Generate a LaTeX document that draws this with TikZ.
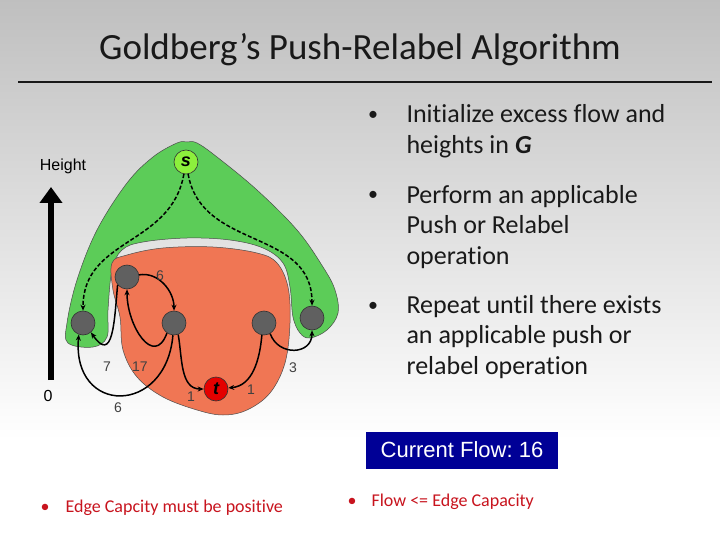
\documentclass[tikz,border=0pt]{standalone}
\usepackage{fontspec}
\setmainfont[Ligatures=NoCommon]{Carlito}
\newfontfamily\arialfont{Liberation Sans}
\usetikzlibrary{arrows.meta,positioning}
\definecolor{regiongreen}{RGB}{92,204,88}
\definecolor{regionred}{RGB}{240,118,84}
\definecolor{vertexgray}{RGB}{96,96,96}
\definecolor{sourcegreen}{RGB}{140,240,60}
\definecolor{sinkred}{RGB}{228,0,0}
\definecolor{flowblue}{RGB}{0,0,150}
\definecolor{noteRed}{RGB}{200,20,30}
\definecolor{textdark}{RGB}{25,25,25}
\tikzset{
    vertex/.style={circle, draw=black!80, fill=vertexgray, minimum size=24pt, inner sep=0pt, line width=0.6pt},
    flow/.style={-{Stealth[length=6pt,width=5pt]}, line width=1.5pt},
    push/.style={flow, dash pattern=on 4pt off 2pt},
    caplabel/.style={font=\arialfont\fontsize{14}{16}\selectfont, text=black!75},
    bullettext/.style={anchor=base west, align=left, text=textdark, font=\fontsize{26}{30.5}\selectfont},
    bulletdot/.style={anchor=base, text=textdark, font=\fontsize{20}{24}\selectfont},
    note/.style={anchor=base west, text=noteRed, font=\fontsize{18}{20}\selectfont}
}
\begin{document}
\begin{tikzpicture}[x=1pt,y=-1pt]

    \useasboundingbox (0,0) rectangle (720,540);
    \fill[white] (0,0) rectangle (720,540);
    \shade[top color=gray!50, bottom color=white] (0,0) rectangle (720,440);

    \node[font=\fontsize{37}{40}\selectfont, text=textdark, anchor=base] (title) at (360,60) {Goldberg's Push-Relabel Algorithm};
    \draw[line width=1.5pt, textdark] (18,82) -- (712,82);

    % regions
    \draw[fill=regiongreen, draw=black!70, line width=0.5pt] plot[smooth cycle, tension=0.6] coordinates {
        (187,142) (177,143) (153,157) (127,183) (97,230) (77,280) (67,323) (68,343) (93,347)
        (107,337) (108,310) (112,270) (122,250) (143,242) (187,238) (230,240) (263,248)
        (283,263) (290,287) (293,317) (300,333) (310,338) (327,330) (338,313) (335,290)
        (323,267) (297,230) (257,190) (217,157) (197,143)};
    \draw[fill=regionred, draw=black!70, line width=0.5pt] plot[smooth cycle, tension=0.6] coordinates {
        (112,263) (113,290) (120,317) (123,350) (137,377) (163,397) (197,410) (223,415)
        (247,410) (270,393) (285,363) (290,323) (288,287) (277,263) (257,253) (213,247)
        (163,248) (127,255)};

    \node[vertex, fill=sourcegreen] (s) at (186,162) {\arialfont\bfseries\itshape\fontsize{18}{18}\selectfont s};
    \node[vertex] (A) at (83,323) {};
    \node[vertex] (B) at (127,277) {};
    \node[vertex] (C) at (174,323) {};
    \node[vertex] (D) at (264,323) {};
    \node[vertex] (E) at (312,318) {};
    \node[vertex, fill=sinkred] (t) at (216,389) {\arialfont\bfseries\itshape\fontsize{18}{18}\selectfont t};

    \draw[push] (s) to[out=-100, in=90, looseness=1.1] (A);
    \draw[push] (s) to[out=-80, in=90, looseness=1.1] (E);
    \draw[flow] (B.10) to[out=10, in=90] (C);
    \draw[flow] (C.235) to[out=-110, in=-90, looseness=1.6] (B);
    \draw[flow] (B.220) to[out=-95, in=-55, looseness=1.8] (A.-50);
    \draw[flow] (C.265) to[out=-95, in=-95, looseness=2.2] (A.250);
    \draw[flow] (C.-70) to[out=-80, in=180] (t);
    \draw[flow] (D.-100) to[out=-95, in=5] (t);
    \draw[flow] (D.-60) to[out=-70, in=-90, looseness=1.5] (E);

    \node[caplabel] (lbc) at (160,276) {6};
    \node[caplabel] (lcb) at (140,367) {17};
    \node[caplabel] (lba) at (107,367) {7};
    \node[caplabel] (lca) at (118,408) {6};
    \node[caplabel] (lct) at (191,397) {1};
    \node[caplabel] (ldt) at (251,390) {1};
    \node[caplabel] (lde) at (293,368) {3};

    % height axis
    \node[font=\arialfont\fontsize{16}{18}\selectfont] (height) at (63,166) {Height};
    \node[font=\arialfont\fontsize{16}{18}\selectfont] (zero) at (48,396) {0};
    \coordinate (hbase) at (51,380);
    \coordinate (htop) at (51,187);
    \draw[line width=6pt, -{Triangle[length=16pt,width=22pt]}] (hbase) -- (htop);

    % steps (node base is the last line)
    \node[bulletdot] (b1) at (373,121) {•};
    \node[bullettext] (t1) at (403,153.5) {Initialize excess flow and\\heights in \textbf{\textit{G}}};
    \node[bulletdot] (b2) at (373,201) {•};
    \node[bullettext] (t2) at (403,264) {Perform an applicable\\Push or Relabel\\operation};
    \node[bulletdot] (b3) at (373,311) {•};
    \node[bullettext] (t3) at (403,374) {Repeat until there exists\\an applicable push or\\relabel operation};

    \node[fill=flowblue, text=white, font=\arialfont\fontsize{22}{24}\selectfont, minimum width=192pt, minimum height=37pt] (curflow) at (462,450) {Current Flow:\ 16};

    \node[note, anchor=base] (n1dot) at (45,512) {•};
    \node[note] (n1) at (62,512) {Edge Capcity must be positive};
    \node[note, anchor=base] (n2dot) at (352,506) {•};
    \node[note] (n2) at (368,506) {Flow <= Edge Capacity};

\end{tikzpicture}
\end{document}
